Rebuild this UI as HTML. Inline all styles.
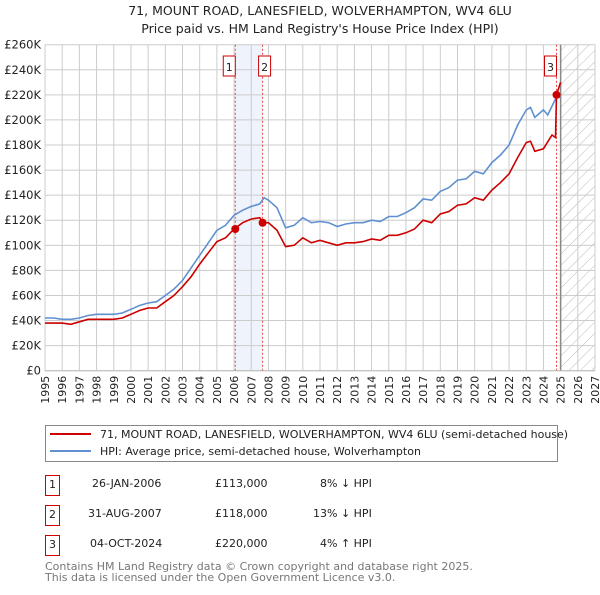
<!DOCTYPE html>
<html><head><meta charset="utf-8"><style>
body{margin:0;background:#fff;font-family:"Liberation Sans","DejaVu Sans",sans-serif;}
svg text{font-family:"DejaVu Sans","Liberation Sans",sans-serif;}
</style></head><body>
<svg id="chart" width="600" height="590" viewBox="0 0 600 590">
<defs><pattern id="hatch" width="8" height="8" patternUnits="userSpaceOnUse" patternTransform="rotate(45)"><line x1="0" y1="0" x2="0" y2="8" stroke="#bbb" stroke-width="1"/></pattern></defs>
<text x="320" y="15" text-anchor="middle" font-size="12.5" fill="#222">71, MOUNT ROAD, LANESFIELD, WOLVERHAMPTON, WV4 6LU</text>
<text x="320" y="33" text-anchor="middle" font-size="12.5" fill="#222">Price paid vs. HM Land Registry's House Price Index (HPI)</text>
<g id="grid"></g><g id="marks"></g><g id="axes"></g>
<rect x="45.5" y="425.5" width="512" height="36" fill="none" stroke="#888"/>
<line x1="50" y1="434" x2="91" y2="434" stroke="#cc0000" stroke-width="2"/>
<text x="100" y="438" font-size="11" fill="#222">71, MOUNT ROAD, LANESFIELD, WOLVERHAMPTON, WV4 6LU (semi-detached house)</text>
<line x1="50" y1="451" x2="91" y2="451" stroke="#6090d0" stroke-width="2"/>
<text x="100" y="455" font-size="11" fill="#222">HPI: Average price, semi-detached house, Wolverhampton</text>
<g font-size="11" fill="#222">
<rect x="45.5" y="475.5" width="14" height="20" fill="none" stroke="#cc0000"/><text x="52.5" y="488" text-anchor="middle">1</text>
<text x="92" y="487">26-JAN-2006</text><text x="215" y="487">£113,000</text><text x="320" y="487">8% ↓ HPI</text>
<rect x="45.5" y="505.5" width="14" height="20" fill="none" stroke="#cc0000"/><text x="52.5" y="518" text-anchor="middle">2</text>
<text x="88" y="517">31-AUG-2007</text><text x="215" y="517">£118,000</text><text x="313" y="517">13% ↓ HPI</text>
<rect x="45.5" y="535.5" width="14" height="20" fill="none" stroke="#cc0000"/><text x="52.5" y="548" text-anchor="middle">3</text>
<text x="90" y="547">04-OCT-2024</text><text x="215" y="547">£220,000</text><text x="320" y="547">4% ↑ HPI</text>
</g>
<text x="45" y="570" font-size="11" fill="#777">Contains HM Land Registry data © Crown copyright and database right 2025.</text>
<text x="45" y="581" font-size="11" fill="#777">This data is licensed under the Open Government Licence v3.0.</text>
</svg>
<script>
const yearTicks=[1995,1996,1997,1998,1999,2000,2001,2002,2003,2004,2005,2006,2007,2008,2009,2010,2011,2012,2013,2014,2015,2016,2017,2018,2019,2020,2021,2022,2023,2024,2025,2026,2027];
const valueTicks=[0,20,40,60,80,100,120,140,160,180,200,220,240,260];
const hpiYears=[1995,1995.5,1996,1996.5,1997,1997.5,1998,1998.5,1999,1999.5,2000,2000.5,2001,2001.5,2002,2002.5,2003,2003.5,2004,2004.5,2005,2005.5,2006,2006.5,2007,2007.5,2007.75,2008,2008.5,2009,2009.5,2010,2010.5,2011,2011.5,2012,2012.5,2013,2013.5,2014,2014.5,2015,2015.5,2016,2016.5,2017,2017.5,2018,2018.5,2019,2019.5,2020,2020.5,2021,2021.5,2022,2022.5,2023,2023.25,2023.5,2024,2024.25,2024.75,2025];
const hpiValues=[42,42,41,41,42,44,45,45,45,46,49,52,54,55,60,65,72,82,92,102,112,116,124,128,131,133,138,136,130,114,116,122,118,119,118,115,117,118,118,120,119,123,123,126,130,137,136,143,146,152,153,159,157,166,172,180,196,208,210,202,208,204,218,218];
const priceYears=[1995,1995.5,1996,1996.5,1997,1997.5,1998,1998.5,1999,1999.5,2000,2000.5,2001,2001.5,2002,2002.5,2003,2003.5,2004,2004.5,2005,2005.5,2006,2006.5,2007,2007.5,2007.67,2008,2008.5,2009,2009.5,2010,2010.5,2011,2011.5,2012,2012.5,2013,2013.5,2014,2014.5,2015,2015.5,2016,2016.5,2017,2017.5,2018,2018.5,2019,2019.5,2020,2020.5,2021,2021.5,2022,2022.5,2023,2023.25,2023.5,2024,2024.5,2024.7,2024.76,2025];
const priceValues=[38,38,38,37,39,41,41,41,41,42,45,48,50,50,55,60,67,75,85,94,103,106,113,118,121,122,118,118,112,99,100,106,102,104,102,100,102,102,103,105,104,108,108,110,113,120,118,125,127,132,133,138,136,144,150,157,170,182,183,175,177,188,186,220,230];
const saleYears=[2006.07,2007.66,2024.76];
const saleValues=[113,118,220];
const saleLabels=["1","2","3"];
const L=45,R=595,T=44.7,B=370.7,Y0=1995,Y1=2027,VMAX=260;
const xs=y=>L+(y-Y0)/(Y1-Y0)*(R-L);
const ys=v=>B-v/VMAX*(B-T);
const NS="http://www.w3.org/2000/svg";
function mk(tag,attrs,parent){const e=document.createElementNS(NS,tag);for(const k in attrs)e.setAttribute(k,attrs[k]);parent.appendChild(e);return e;}
const grid=document.getElementById('grid'),marks=document.getElementById('marks'),axes=document.getElementById('axes');
let band=mk('rect',{x:xs(saleYears[0]),y:T,width:xs(saleYears[1])-xs(saleYears[0]),height:B-T,fill:'#eef3fc'},grid);


let hatch=mk('rect',{x:xs(2025),y:T,width:R-xs(2025),height:B-T,fill:'url(#hatch)'},grid);


yearTicks.forEach(y=>{const l=mk('line',{x1:xs(y),x2:xs(y),y1:T,y2:B,stroke:'#cccccc','stroke-width':1},grid);


const t=mk('text',{x:0,y:0,'font-size':11,fill:'#222','text-anchor':'end',transform:`translate(${xs(y)+4},${B+5}) rotate(-90)`},axes);t.textContent=y;

});
valueTicks.forEach(v=>{const l=mk('line',{x1:L,x2:R,y1:ys(v),y2:ys(v),stroke:'#cccccc','stroke-width':1},grid);


const t=mk('text',{x:L-4,y:ys(v)+4,'font-size':11.5,fill:'#222','text-anchor':'end'},axes);t.textContent=v===0?'£0':'£'+v+'K';

});
let nowLine=mk('line',{x1:xs(2025),x2:xs(2025),y1:T,y2:B,stroke:'#888','stroke-width':1.5},grid);


saleYears.forEach((y,i)=>{const l=mk('line',{x1:xs(y),x2:xs(y),y1:T,y2:B,stroke:'#ee4444','stroke-width':1,'stroke-dasharray':'2,2'},grid);


const r=mk('rect',{x:xs(y)+(i===1?-4:-12),y:56,width:12,height:20,fill:'#fff',stroke:'#cc0000'},axes);


const t=mk('text',{x:xs(y)+(i===1?2:-6),y:71,'font-size':11,'text-anchor':'middle',fill:'#222'},axes);t.textContent=saleLabels[i];

});
const pts=(xsArr,vs)=>xsArr.map((y,i)=>xs(y).toFixed(1)+','+ys(vs[i]).toFixed(1)).join(' ');
let hpi=mk('polyline',{points:pts(hpiYears,hpiValues),fill:'none',stroke:'#6090d0','stroke-width':1.6},marks);


let pr=mk('polyline',{points:pts(priceYears,priceValues),fill:'none',stroke:'#cc0000','stroke-width':1.6},marks);


saleYears.forEach((y,i)=>{const c=mk('circle',{cx:xs(y),cy:ys(saleValues[i]),r:4,fill:'#cc0000'},marks);

});
let ax=mk('line',{x1:L,x2:R,y1:B,y2:B,stroke:'#bbb'},axes);


</script>
</body></html>
